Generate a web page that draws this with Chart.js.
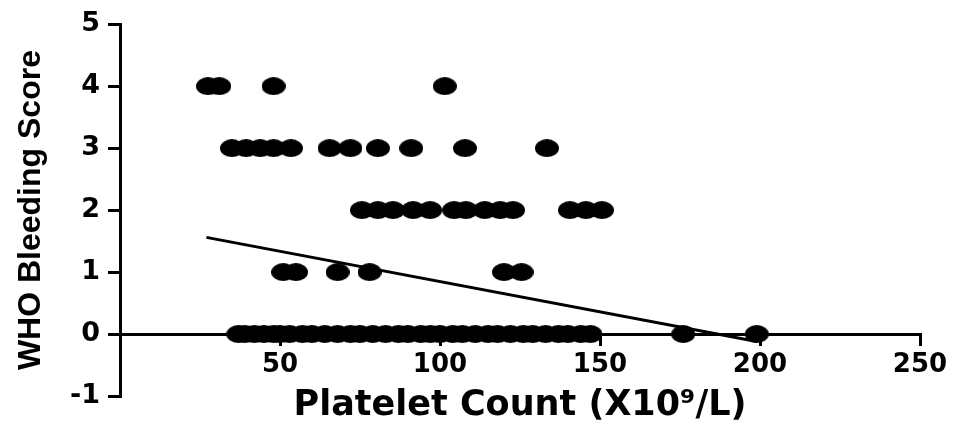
<!DOCTYPE html>
<html><head><meta charset="utf-8">
<script src="https://cdn.jsdelivr.net/npm/chart.js@4"></script>
<style>html,body{margin:0;padding:0;background:#fff}#wrap{width:955px;height:435px;position:relative}</style>
</head><body><div id="wrap"><canvas id="c"></canvas></div>
<script>
const xTickValues = [50, 100, 150, 200, 250];
const yTickValues = [-1, 0, 1, 2, 3, 4, 5];
const score4Platelets = [27.5, 31, 48, 101.5];
const score3Platelets = [35, 39.4, 43.8, 48, 53.4, 65.5, 72, 80.6, 91, 107.8, 133.4];
const score2Platelets = [75.6, 80.6, 85.3, 91.6, 96.9, 104.4, 108.1, 114, 118.8, 122.8, 140.6, 145.6, 150.6];
const score1Platelets = [51, 55, 68, 78, 120, 125.5];
const score0Platelets = [37, 39, 42, 45, 48, 50, 53, 57, 60, 64, 68, 72, 75, 79, 83, 87, 90, 94, 97, 100, 104, 107, 111, 115, 118, 122, 126, 129, 133, 137, 140, 144, 147, 176, 199];
const fitX = [27, 199];
const fitY = [1.56, -0.12];

function ellipseDot(w, h) {
  const c = document.createElement('canvas');
  c.width = w; c.height = h;
  const g = c.getContext('2d');
  g.fillStyle = '#000';
  g.beginPath();
  g.ellipse(w / 2, h / 2, w / 2, h / 2, 0, 0, Math.PI * 2);
  g.fill();
  return c;
}
const dot = ellipseDot(24, 18);

// pick a narrow face for the vertical title when available
function hasFont(name) {
  const g = document.createElement('canvas').getContext('2d');
  const s = 'WHO Bleeding Score';
  g.font = 'bold 40px monospace';
  const a = g.measureText(s).width;
  g.font = "bold 40px '" + name + "', monospace";
  return Math.abs(g.measureText(s).width - a) > 1;
}
const narrow = hasFont('Liberation Sans Narrow');
const yTitleFont = narrow
  ? { family: 'Liberation Sans Narrow', weight: 'bold', size: 38 }
  : { family: 'Liberation Sans', weight: 'bold', size: 32 };

const rows = [[0, score0Platelets], [1, score1Platelets], [2, score2Platelets], [3, score3Platelets], [4, score4Platelets]];
const pointSets = rows.map(([score, arr]) => ({
  type: 'scatter',
  data: arr.map(x => ({ x: x, y: score })),
  pointStyle: dot,
  pointRadius: 9,
  backgroundColor: '#000',
  borderColor: '#000'
}));

const tickFont = { family: 'DejaVu Sans', weight: 'bold', size: 26 };

new Chart(document.getElementById('c'), {
  type: 'scatter',
  data: {
    datasets: [{
      type: 'line',
      data: fitX.map((x, i) => ({ x: x, y: fitY[i] })),
      borderColor: '#000',
      borderWidth: 3,
      pointRadius: 0,
      fill: false,
      tension: 0
    }].concat(pointSets)
  },
  options: {
    animation: false,
    responsive: true,
    maintainAspectRatio: false,
    layout: { padding: { top: 20, right: 35, bottom: 0, left: 0 } },
    plugins: { legend: { display: false }, tooltip: { enabled: false } },
    scales: {
      x: {
        type: 'linear',
        position: { y: 0 },
        min: 0, max: 250,
        afterBuildTicks: s => { s.ticks = xTickValues.map(v => ({ value: v })); },
        afterFit: s => { s.height = 0; },
        border: { display: true, color: '#000', width: 3 },
        grid: { display: true, drawOnChartArea: false, drawTicks: true, tickLength: 10, lineWidth: 3, color: '#000' },
        ticks: { color: '#000', font: tickFont, padding: 6, maxRotation: 0, autoSkip: false }
      },
      x2: {
        type: 'linear',
        axis: 'x',
        position: 'bottom',
        min: 0, max: 250,
        afterFit: s => { s.height = 39; },
        grid: { display: false },
        border: { display: false },
        ticks: { display: false },
        title: {
          display: true,
          text: 'Platelet Count (X10\u2079/L)',
          color: '#000',
          font: { family: 'DejaVu Sans', weight: 'bold', size: 35 },
          padding: { top: 0, bottom: 8 }
        }
      },
      y: {
        type: 'linear',
        position: 'left',
        min: -1, max: 5,
        afterBuildTicks: s => { s.ticks = yTickValues.map(v => ({ value: v })); },
        afterFit: s => { s.width = 120; },
        border: { display: true, color: '#000', width: 3 },
        grid: { display: true, drawOnChartArea: false, drawTicks: true, tickLength: 12, lineWidth: 3, color: '#000' },
        ticks: { color: '#000', font: { family: 'DejaVu Sans', weight: 'bold', size: 27 }, padding: 8, autoSkip: false },
        title: {
          display: true,
          text: 'WHO Bleeding Score',
          color: '#000',
          font: yTitleFont,
          padding: { top: narrow ? 8 : 12, bottom: 0 }
        }
      }
    }
  }
});
</script>
</body></html>
